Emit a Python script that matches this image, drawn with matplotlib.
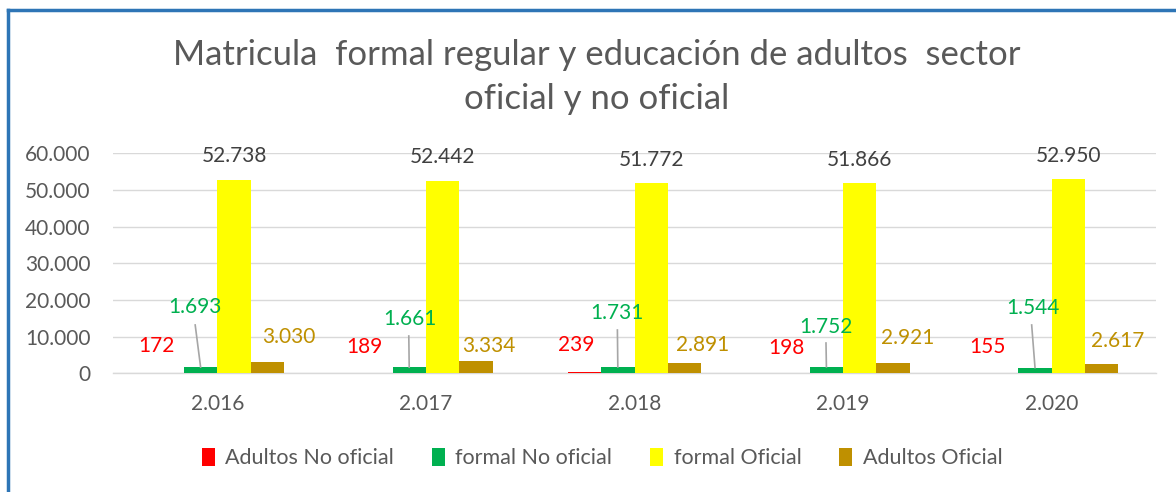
import matplotlib
matplotlib.use("Agg")
import matplotlib.pyplot as plt
from matplotlib.lines import Line2D
from matplotlib.patches import Patch
import numpy as np

# ---- data ----
years = ["2.016", "2.017", "2.018", "2.019", "2.020"]
series_names = ["Adultos No oficial", "formal No oficial", "formal Oficial", "Adultos Oficial"]
adultos_no_oficial = [172, 189, 239, 198, 155]
formal_no_oficial = [1693, 1661, 1731, 1752, 1544]
formal_oficial = [52738, 52442, 51772, 51866, 52950]
adultos_oficial = [3030, 3334, 2891, 2921, 2617]
y_ticks = [0, 10000, 20000, 30000, 40000, 50000, 60000]
title = "Matricula  formal regular y educación de adultos  sector\noficial y no oficial"

# ---- styles / layout ----
colors = ["#FF0000", "#00B050", "#FFFF00", "#BF9000"]
label_colors = ["#FF0000", "#00B050", "#404040", "#BF9000"]
FONT = "Lato"
plt.rcParams["font.family"] = [FONT, "DejaVu Sans"]

# manual label placements (x offset from group centre in category units, y in data units)
red_lbl_dx = [-0.293, -0.293, -0.278, -0.273, -0.307]
red_lbl_y = [7445, 7172, 7718, 6900, 7172]
green_lbl_dx = [-0.106, -0.077, -0.082, -0.082, -0.091]
green_lbl_y = [18080, 14808, 16444, 12626, 17808]
green_lead_dx = [-0.106, -0.082, -0.082, -0.082, -0.096]
green_lead_y = [13180, 10172, 11808, 8263, 13180]
brown_lbl_dx = [0.345, 0.302, 0.326, 0.312, 0.317]
brown_lbl_y = [9899, 7445, 7718, 9626, 8808]

def fmt(v):
    return f"{v:,}".replace(",", ".")

fig = plt.figure(figsize=(11.76, 4.92), dpi=100)
ax = fig.add_axes([113/1176, 1-373.3/492, (1156-113)/1176, (373.3-153.3)/492])

x = np.arange(len(years))
w = 0.16
all_series = [adultos_no_oficial, formal_no_oficial, formal_oficial, adultos_oficial]
offsets = [-1.5*w, -0.5*w, 0.5*w, 1.5*w]
for vals, off, c, name in zip(all_series, offsets, colors, series_names):
    ax.bar(x + off, vals, width=w, color=c, label=name, zorder=3)

ax.set_xlim(-0.5, len(years) - 0.5)
ax.set_ylim(0, 60000)
ax.set_yticks(y_ticks)
ax.set_yticklabels([fmt(t) for t in y_ticks])
ax.set_xticks(x)
ax.set_xticklabels(years)
ax.tick_params(axis="both", length=0, labelsize=15, labelcolor="#595959")
ax.tick_params(axis="y", pad=16)
ax.tick_params(axis="x", pad=15)
ax.grid(axis="y", color="#D9D9D9", linewidth=1, zorder=0)
for s in ["top", "right", "left"]:
    ax.spines[s].set_visible(False)
ax.spines["bottom"].set_color("#D9D9D9")
ax.spines["bottom"].set_linewidth(1)

# labels
for i in range(len(years)):
    ax.text(i + red_lbl_dx[i], red_lbl_y[i], fmt(adultos_no_oficial[i]), color=label_colors[0],
            fontsize=15, ha="center", va="center", zorder=5)
    ax.plot([i + green_lead_dx[i], i + offsets[1]], [green_lead_y[i], formal_no_oficial[i]],
            color="#A6A6A6", linewidth=1.2, zorder=4)
    ax.text(i + green_lbl_dx[i], green_lbl_y[i], fmt(formal_no_oficial[i]), color=label_colors[1],
            fontsize=15, ha="center", va="center", zorder=5)
    ax.annotate(fmt(formal_oficial[i]), (i + offsets[2], formal_oficial[i]), xytext=(0, 17),
                textcoords="offset points", color=label_colors[2], fontsize=15,
                ha="center", va="center", zorder=5, annotation_clip=False)
    ax.text(i + brown_lbl_dx[i], brown_lbl_y[i], fmt(adultos_oficial[i]), color=label_colors[3],
            fontsize=15, ha="center", va="center", zorder=5)

fig.text(597/1176, 1-77/492, title, ha="center", va="center", fontsize=25,
         color="#595959", linespacing=1.45)

handles = [Patch(facecolor=c, edgecolor="none") for c in colors]
leg = fig.legend(handles, series_names, loc="center", bbox_to_anchor=(602/1176, 1-458/492),
                 ncol=4, frameon=False, fontsize=15.5, handlelength=0.6, handleheight=0.9,
                 handletextpad=0.5, columnspacing=1.75, labelcolor="#595959")

# blue frame (left and top)
fig.add_artist(Line2D([7.5/1176, 7.5/1176], [0, 1-9.5/492], color="#2E75B6", linewidth=2.5,
                      transform=fig.transFigure))
fig.add_artist(Line2D([7.5/1176, 1], [1-9.5/492, 1-9.5/492], color="#2E75B6", linewidth=2.5,
                      transform=fig.transFigure))

fig.savefig("out.png", dpi=100)
